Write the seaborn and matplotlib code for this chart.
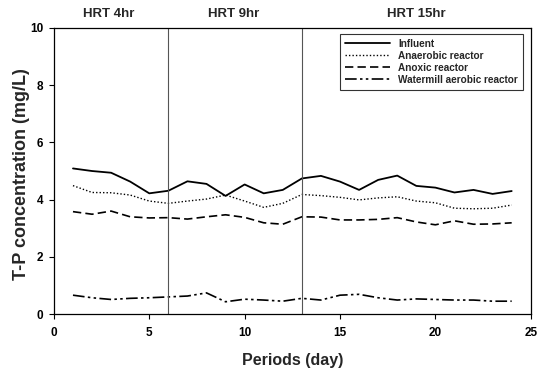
import numpy as np
import pandas as pd
import matplotlib
matplotlib.use("Agg")
import matplotlib.pyplot as plt
import seaborn as sns

days = list(range(1, 25))
influent = [5.09, 5.00, 4.94, 4.63, 4.22, 4.31, 4.64, 4.55, 4.13, 4.53, 4.22, 4.34,
            4.74, 4.83, 4.63, 4.34, 4.69, 4.84, 4.48, 4.42, 4.25, 4.34, 4.20, 4.30]
anaerobic = [4.49, 4.25, 4.24, 4.16, 3.95, 3.87, 3.95, 4.02, 4.16, 3.95, 3.73, 3.87,
             4.18, 4.14, 4.08, 3.99, 4.06, 4.10, 3.95, 3.89, 3.70, 3.68, 3.70, 3.81]
anoxic = [3.58, 3.49, 3.60, 3.40, 3.36, 3.37, 3.32, 3.40, 3.47, 3.38, 3.19, 3.14,
          3.40, 3.39, 3.29, 3.29, 3.31, 3.37, 3.22, 3.12, 3.26, 3.14, 3.15, 3.19]
watermill = [0.66, 0.57, 0.51, 0.55, 0.57, 0.60, 0.63, 0.74, 0.43, 0.52, 0.49, 0.45,
             0.55, 0.49, 0.66, 0.69, 0.57, 0.49, 0.53, 0.51, 0.49, 0.49, 0.45, 0.45]
series_names = ["Influent", "Anaerobic reactor", "Anoxic reactor", "Watermill aerobic reactor"]
hrt_labels = ["HRT 4hr", "HRT 9hr", "HRT 15hr"]
hrt_label_x = [2.85, 9.4, 19.0]
hrt_bounds = [6, 13]

sns.set_style("white")
plt.rcParams['font.family'] = ['Liberation Sans', 'DejaVu Sans']

fig = plt.figure(figsize=(5.5, 3.73), dpi=100)
ax = fig.add_axes([0.098, 0.158, 0.867, 0.767])

styles = ["-", (0, (1, 1.5)), (0, (5, 2.5)), (0, (7, 2, 1.5, 2, 1.5, 2))]
widths = [1.3, 1.0, 1.2, 1.2]
for name, vals, ls, lw in zip(series_names, [influent, anaerobic, anoxic, watermill], styles, widths):
    df = pd.DataFrame({"day": days, "val": vals})
    sns.lineplot(data=df, x="day", y="val", ax=ax, color="black", linestyle=ls, linewidth=lw, label=name)

for b in hrt_bounds:
    ax.axvline(b, color="#555555", linewidth=0.8)

for xc, lab in zip(hrt_label_x, hrt_labels):
    ax.text(xc, 10.48, lab, ha="center", va="center", fontsize=9.5, fontweight="bold")

ax.set_xlim(0, 25)
ax.set_ylim(0, 10)
ax.set_xticks([0, 5, 10, 15, 20, 25])
ax.set_yticks([0, 2, 4, 6, 8, 10])
ax.tick_params(axis="both", direction="out", length=3.5, width=0.8, labelsize=8.5, colors="black",
               bottom=True, left=True)
ax.tick_params(axis="x", pad=6)
ax.tick_params(axis="y", pad=4)
for lab in ax.get_xticklabels() + ax.get_yticklabels():
    lab.set_fontweight("bold")
for sp in ax.spines.values():
    sp.set_color("black")
    sp.set_linewidth(0.9)

ax.set_xlabel("Periods (day)", fontsize=11.5, fontweight="bold")
ax.set_ylabel("T-P concentration (mg/L)", fontsize=13, fontweight="bold")
ax.xaxis.set_label_coords(0.5, -0.161)
ax.yaxis.set_label_coords(-0.067, 0.49)
ax.xaxis.label.set_va("center")
ax.yaxis.label.set_va("center")

leg = ax.legend(loc="upper right", bbox_to_anchor=(0.983, 0.979), fontsize=7.2, frameon=True,
                fancybox=False, edgecolor="black", handlelength=4.5, borderpad=0.5,
                labelspacing=0.2, borderaxespad=0)
leg.get_frame().set_linewidth(0.8)
for t in leg.get_texts():
    t.set_fontweight("bold")

fig.savefig("out.png", dpi=100)
